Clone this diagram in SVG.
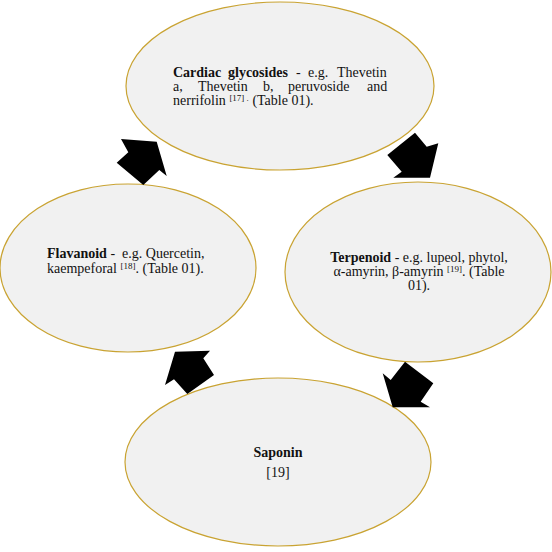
<svg xmlns="http://www.w3.org/2000/svg" width="552" height="552" viewBox="0 0 552 552">
<style>
.node ellipse{fill:#f1f1f1;stroke:#c9a332;stroke-width:1.2}
text{font-family:"Liberation Serif","Times New Roman",serif;font-size:14px;fill:#111}
.b{font-weight:bold}
.sup{font-size:9px}
.arrow{fill:#000}
</style>
<rect width="552" height="552" fill="#fff"/>
<g id="cardiac" class="node">
<ellipse cx="280" cy="86" rx="154" ry="84"/>
<text y="77"><tspan x="173" class="b">Cardiac</tspan><tspan x="228" class="b">glycosides</tspan><tspan x="296">-</tspan><tspan x="308">e.g.</tspan><tspan x="337">Thevetin</tspan></text>
<text y="91"><tspan x="173">a,</tspan><tspan x="198">Thevetin</tspan><tspan x="263">b,</tspan><tspan x="288">peruvoside</tspan><tspan x="367">and</tspan></text>
<text y="105" x="173">nerrifolin <tspan class="sup" dy="-4">[17] .</tspan><tspan dy="4"> (Table 01).</tspan></text>
</g>
<g id="terpenoid" class="node">
<ellipse cx="418" cy="272" rx="133" ry="90"/>
<text x="419" y="262" text-anchor="middle"><tspan class="b">Terpenoid</tspan> - e.g. lupeol, phytol,</text>
<text x="419" y="276" text-anchor="middle">α-amyrin, β-amyrin <tspan class="sup" dy="-4">[19]</tspan><tspan dy="4">. (Table</tspan></text>
<text x="419" y="290" text-anchor="middle">01).</text>
</g>
<g id="flavanoid" class="node">
<ellipse cx="128" cy="268" rx="128" ry="84"/>
<text x="47" y="258" xml:space="preserve"><tspan class="b">Flavanoid</tspan> -  e.g. Quercetin,</text>
<text x="47" y="273">kaempeforal <tspan class="sup" dy="-4">[18]</tspan><tspan dy="4">. (Table 01).</tspan></text>
</g>
<g id="saponin" class="node">
<ellipse cx="278" cy="462" rx="153" ry="84"/>
<text x="278" y="457" text-anchor="middle" class="b">Saponin</text>
<text x="278" y="477" text-anchor="middle">[19]</text>
</g>
<g id="connectors">
<polygon class="arrow" points="121,139 156.7,141.7 166.7,176 159.3,170 143.3,185 116.7,162.7 128.3,152.3"/>
<polygon class="arrow" points="415,132.7 426.7,146.7 438.3,143.3 430,177.7 393.3,177.7 401.7,171.7 387.3,155"/>
<polygon class="arrow" points="405,361.7 433.3,383.3 420.7,401.7 430,407.3 392.7,407.3 382.7,373.3 390.7,380"/>
<polygon class="arrow" points="175,351.7 210,350.7 203.3,358.3 214,375 187.3,394 174,379.3 165,385"/>
</g>
</svg>
